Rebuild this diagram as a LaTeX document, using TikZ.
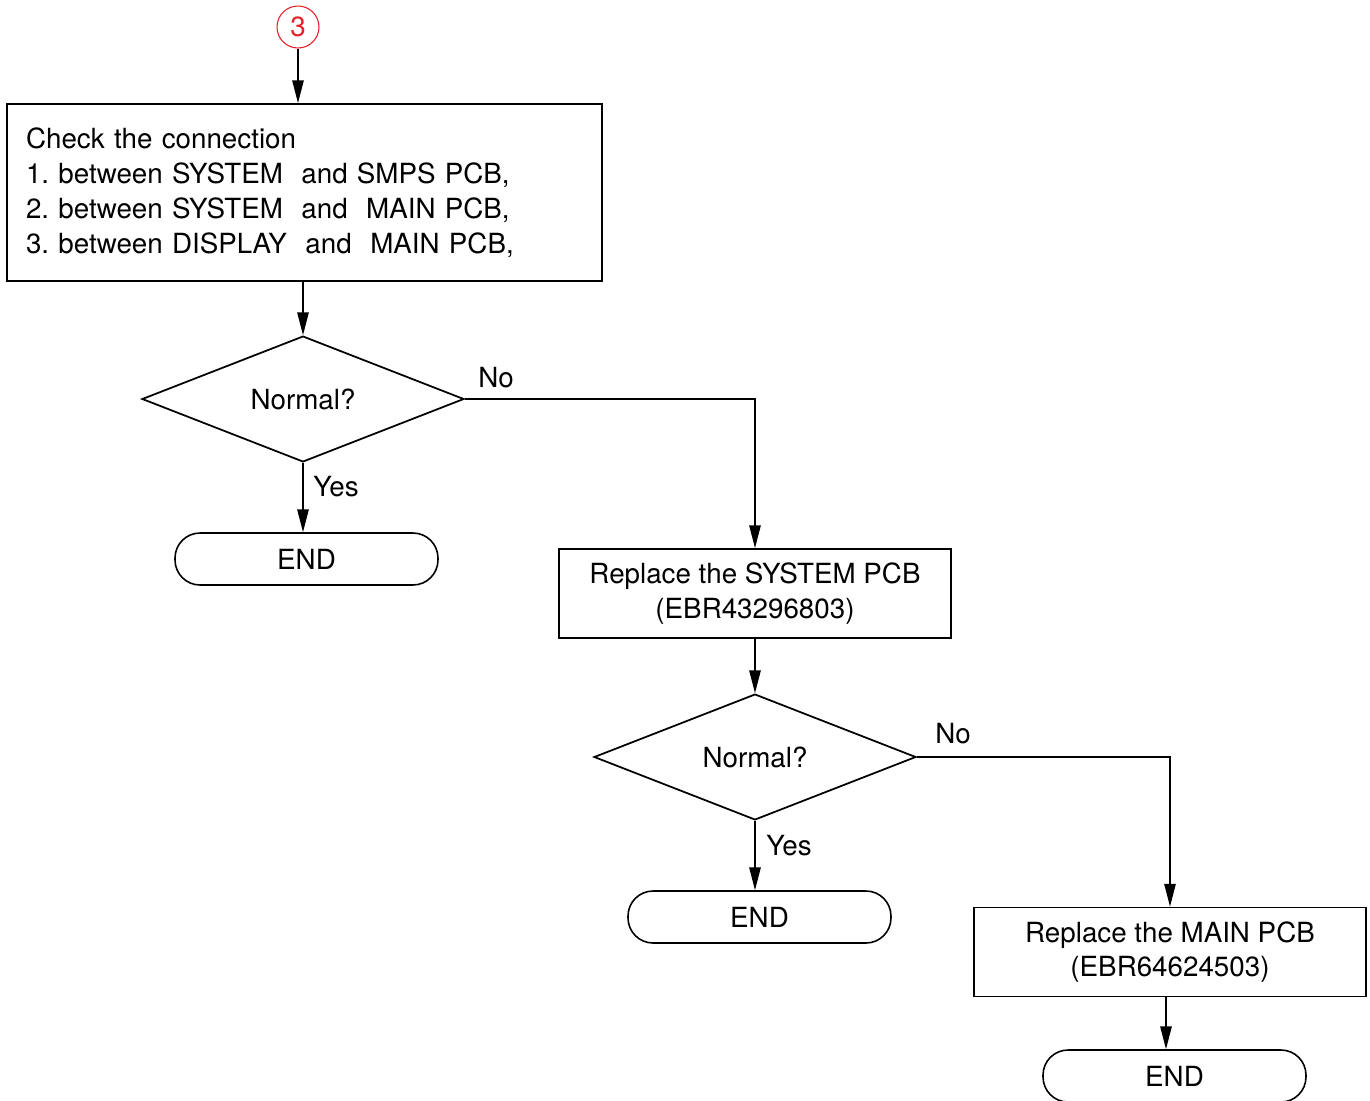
\documentclass[tikz,border=0pt]{standalone}
\usepackage{fontspec}
\setmainfont{TeX Gyre Heros}
\usetikzlibrary{arrows.meta,shapes.geometric}
\definecolor{markred}{RGB}{228,32,40}
\frenchspacing
\tikzset{
  arr/.style={-{Triangle[length=13pt,width=6.5pt]},line width=0.8pt},
  stepbox/.style={draw,line width=1pt,minimum width=7.84cm,minimum height=1.78cm,align=center,inner sep=0pt},
  ask/.style={draw,diamond,line width=1pt,minimum width=6.44cm,minimum height=2.5cm,inner sep=0pt},
  stop/.style={draw,line width=0.9pt,rounded corners=0.5cm,minimum width=5.26cm,minimum height=1.04cm,inner sep=0pt}
}
\begin{document}
\begin{tikzpicture}[x=0.02cm,y=-0.02cm,every node/.style={font=\fontsize{15.8}{19.8}\selectfont}]
  \useasboundingbox (0,0) rectangle (1370,1100);
  \node[draw=markred,text=markred,circle,line width=0.6pt,minimum size=0.84cm,inner sep=0pt] (c3) at (298,27) {3};
  \node[draw,line width=1pt,minimum width=11.9cm,minimum height=3.54cm,text width=11.14cm,align=left,inner xsep=0.38cm] (box1) at (304.5,192.5)
    {Check the connection\\1. between SYSTEM\ \ and SMPS PCB,\\2. between SYSTEM\ \ and\ \ MAIN PCB,\\3. between DISPLAY\ \ and\ \ MAIN PCB,};
  \node[ask] (d1) at (303,399) {Normal?};
  \node[stop] (end1) at (306.5,559) {END};
  \node[stepbox] (box2) at (755,593.5) {Replace the SYSTEM PCB\\(EBR43296803)};
  \node[ask] (d2) at (755,757) {Normal?};
  \node[stop] (end2) at (759.5,917) {END};
  \node[stepbox] (box3) at (1170,952) {Replace the MAIN PCB\\(EBR64624503)};
  \node[stop] (end3) at (1174.5,1076) {END};
  \node (no1) at (496,378) {No};
  \node (yes1) at (336,487) {Yes};
  \node (no2) at (953,734) {No};
  \node (yes2) at (789,846) {Yes};
  \draw[arr] (c3) -- (c3 |- box1.north);
  \draw[arr] (box1.south -| d1.north) -- (d1.north);
  \draw[arr] (d1.south) -- (d1.south |- end1.north);
  \draw[arr] (d1.east) -| (box2.north);
  \draw[arr] (box2.south -| d2.north) -- (d2.north);
  \draw[arr] (d2.south) -- (d2.south |- end2.north);
  \draw[arr] (d2.east) -| (box3.north);
  \draw[arr] (box3.south -| 1166,0) -- (end3.north -| 1166,0);
\end{tikzpicture}
\end{document}
